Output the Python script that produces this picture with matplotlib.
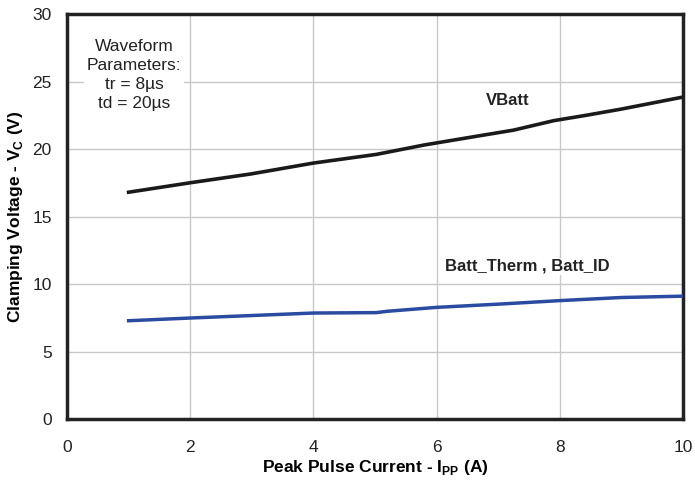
import matplotlib
matplotlib.use("Agg")
import matplotlib.pyplot as plt

plt.rcParams['font.family'] = ['Liberation Sans', 'DejaVu Sans']
plt.rcParams['mathtext.fontset'] = 'custom'
plt.rcParams['mathtext.rm'] = 'Liberation Sans'
plt.rcParams['mathtext.bf'] = 'Liberation Sans:bold'

# Peak pulse current (A) and clamping voltage (V)
vbatt_x = [1.0, 2.0, 2.98, 4.0, 5.02, 5.8, 6.72, 7.25, 7.9, 8.43, 9.0, 10.0]
vbatt_y = [16.8, 17.5, 18.15, 18.96, 19.6, 20.3, 21.0, 21.4, 22.1, 22.5, 22.96, 23.85]

batt_x = [1.0, 2.0, 4.0, 5.02, 5.2, 6.0, 7.05, 8.0, 9.0, 10.0]
batt_y = [7.28, 7.48, 7.85, 7.88, 7.98, 8.27, 8.52, 8.77, 9.0, 9.1]

xticks = [0, 2, 4, 6, 8, 10]
yticks = [0, 5, 10, 15, 20, 25, 30]

fig = plt.figure(figsize=(6.95, 4.84), dpi=100)
ax = fig.add_axes([0.0964, 0.1343, 0.8863, 0.8367])

ax.plot(vbatt_x, vbatt_y, color='#1a1a1a', lw=2.6, zorder=3)
ax.plot(batt_x, batt_y, color='#2b4ba0', lw=2.5, zorder=3)

ax.set_xlim(0, 10)
ax.set_ylim(0, 30)
ax.set_xticks(xticks)
ax.set_yticks(yticks)
ax.tick_params(length=0, labelsize=12.5, colors='#222222')
ax.tick_params(axis='x', pad=15)
ax.tick_params(axis='y', pad=11)
ax.grid(True, color='#c8c8c8', lw=1)
ax.set_axisbelow(True)
for s in ax.spines.values():
    s.set_linewidth(2.5)
    s.set_color('#222222')

xl = ax.set_xlabel(r'Peak Pulse Current - I$_{\mathbf{PP}}$ (A)', fontsize=12.5, fontweight='bold')
yl = ax.set_ylabel(r'Clamping Voltage - V$_{\mathbf{C}}$ (V)', fontsize=12.5, fontweight='bold')
xl.set_va('center')
yl.set_va('center')
ax.xaxis.set_label_coords(0.5, -0.121)
ax.yaxis.set_label_coords(-0.083, 0.5)

ax.text(1.09, 25.5, 'Waveform\nParameters:\ntr = 8\u00b5s\ntd = 20\u00b5s', ha='center', va='center',
        fontsize=12.5, color='#222222', linespacing=1.32,
        bbox=dict(facecolor='white', edgecolor='none', pad=2), zorder=4)
ax.text(7.16, 23.6, 'VBatt', ha='center', va='center', fontsize=12, fontweight='bold', color='#222222')
ax.text(7.48, 11.3, 'Batt_Therm , Batt_ID', ha='center', va='center', fontsize=12, fontweight='bold',
        color='#222222', bbox=dict(facecolor='white', edgecolor='none', pad=1))

fig.savefig('out.png', dpi=100)
